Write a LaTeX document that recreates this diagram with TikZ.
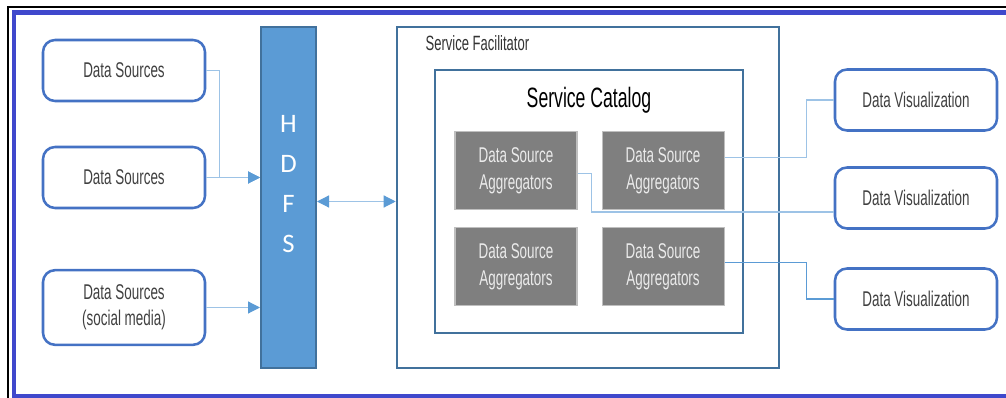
\documentclass[tikz,border=0pt]{standalone}
\usepackage{fontspec}
\setmainfont{Liberation Sans}
\newfontfamily\agency[FakeStretch=0.63]{Liberation Sans}
\newfontfamily\calib{Carlito}
\usetikzlibrary{arrows.meta,positioning}

\definecolor{srcblue}{HTML}{4472C4}
\definecolor{hdfsfill}{HTML}{5B9BD5}
\definecolor{darkline}{HTML}{41719C}
\definecolor{linkblue}{HTML}{9DC3E6}
\definecolor{aggfill}{HTML}{7F7F7F}
\definecolor{frameblue}{HTML}{3F48CC}

\begin{document}
\begin{tikzpicture}[
    x=0.75pt, y=-0.75pt,
    node distance=12.75pt and 18pt,
    srcbox/.style={draw=srcblue, line width=1.9pt, rounded corners=9pt, fill=white, align=center, minimum width=121.5pt, minimum height=45.75pt, font=\agency\fontsize{16pt}{19.5pt}\selectfont, text=black!75},
    aggbox/.style={draw=black!25, line width=0.8pt, fill=aggfill, align=center, minimum width=91.5pt, minimum height=58.5pt, font=\agency\fontsize{16pt}{20pt}\selectfont, text=black!8},
    frame/.style={draw=darkline, line width=1.9pt, inner sep=0pt},
    link/.style={draw=linkblue, line width=0.9pt},
    flow/.style={link, -{Triangle[length=9pt, width=9pt, color=hdfsfill]}}
]
\useasboundingbox (0,0) rectangle (1006,398);

% outer frame
\draw[black, line width=1.5pt] (8,398) -- (8,7) -- (1006,7);
\draw[frameblue, line width=3.5pt] (1006,12.5) -- (14,12.5) -- (14,396) -- (1006,396);

% sources
\node[srcbox] (ds1) at (124,70.5) {Data Sources};
\node[srcbox] (ds2) at (124,177.5) {Data Sources};
\node[srcbox, minimum height=56pt] (ds3) at (124,307.5) {Data Sources\\(social media)};

% hdfs
\node[draw=darkline, line width=1.5pt, fill=hdfsfill, minimum width=41.25pt, minimum height=255.75pt] (hdfs) at (288.5,197.5) {};
\node[align=center, text=white, font=\calib\fontsize{20pt}{30pt}\selectfont] (hdfslabel) at (288.5,184) {H\\D\\F\\S};

% facilitator and catalog
\node[frame, minimum width=286.5pt, minimum height=255.75pt] (sf) at (588,197.5) {};
\node[anchor=west, font=\agency\fontsize{15.5pt}{16pt}\selectfont, text=black!80] (sflabel) at (421,43) {Service Facilitator};
\node[frame, minimum width=231pt, minimum height=197.25pt] (sc) at (589,201.5) {};
\node[font=\agency\fontsize{21pt}{22pt}\selectfont] (sctitle) at (589,100) {Service Catalog};

\node[aggbox] (agg1) at (516,170.5) {Data Source\\Aggregators};
\node[aggbox, right=of agg1] (agg2) {Data Source\\Aggregators};
\node[aggbox, below=of agg1] (agg3) {Data Source\\Aggregators};
\node[aggbox, below=of agg2] (agg4) {Data Source\\Aggregators};

% visualization
\node[srcbox] (dv1) at (916,100) {Data Visualization};
\node[srcbox] (dv2) at (916,198) {Data Visualization};
\node[srcbox] (dv3) at (916,299) {Data Visualization};

% connectors
\draw[flow] (ds1.east) -- ++(13,0) |- (hdfs.west |- ds2.east);
\draw[flow] (ds2.east) -- (hdfs.west |- ds2.east);
\draw[flow] (ds3.east) -- (hdfs.west |- ds3.east);
\draw[flow, {Triangle[length=9pt, width=9pt, color=hdfsfill]}-{Triangle[length=9pt, width=9pt, color=hdfsfill]}] (hdfs.east |- sc) -- (sf.west |- sc);

\draw[link] ([yshift=9.75pt]agg2.east) -- ++(82,0) |- (dv1.west);
\draw[link] ([yshift=-2.5pt]agg1.east) -- ++(14,0) |- ([yshift=-10.5pt]dv2.west);
\draw[link, draw=hdfsfill] ([yshift=3pt]agg4.east) -- ++(82,0) |- (dv3.west);
\end{tikzpicture}
\end{document}
